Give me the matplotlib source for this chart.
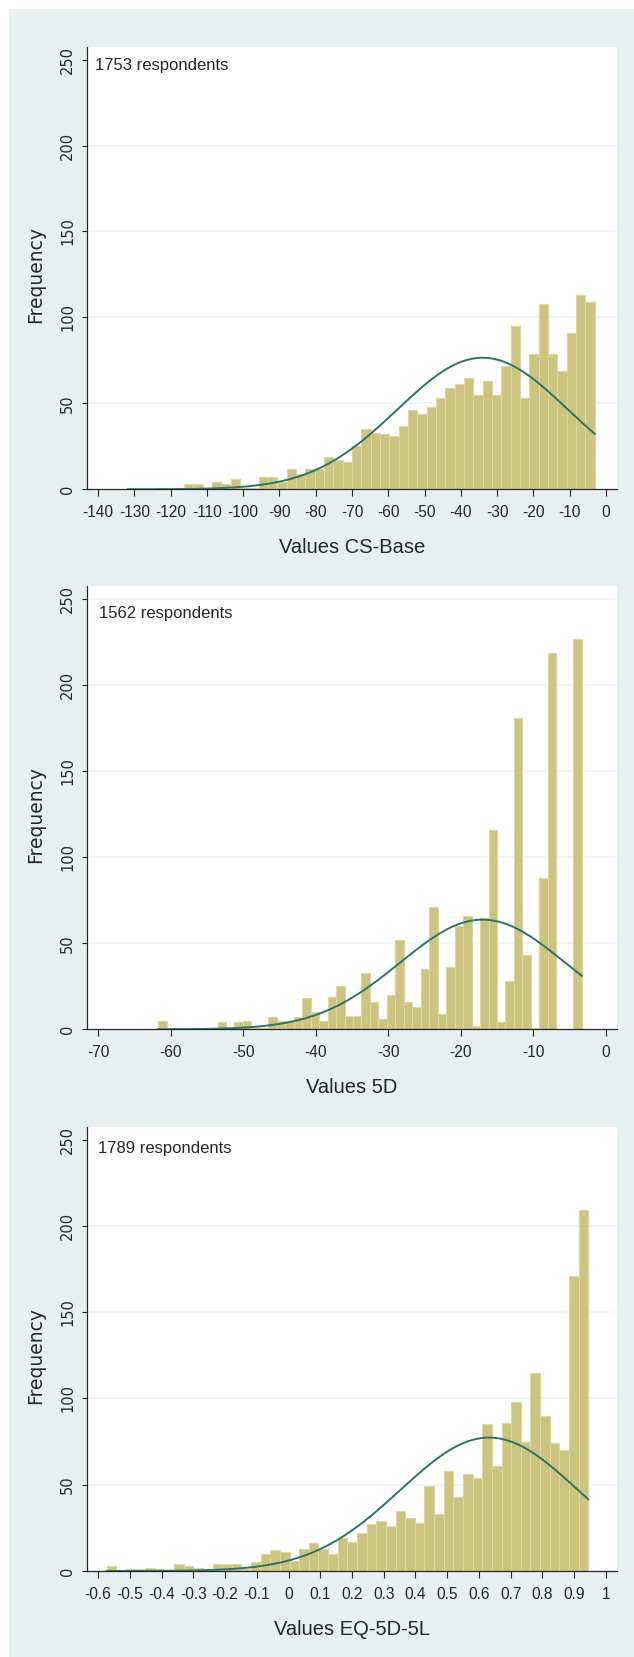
import matplotlib
matplotlib.use('Agg')
import matplotlib.pyplot as plt
import numpy as np
from matplotlib.patches import Rectangle
from matplotlib.ticker import FuncFormatter

BG = '#e8eff1'; BAR = '#ccc47f'; BAR_EDGE = '#dcd6a2'; CURVE = '#2a7468'
GRID = '#edf3f5'; INK = '#262626'
NARROW = ['Liberation Sans', 'DejaVu Sans']
WIDE = ['DejaVu Sans']

# CS-Base: 50 bins between min and max
cs_range = (-131.7, -3.1)
cs_counts = [1, 0, 0, 1, 0, 1, 3, 3, 0, 4, 3, 6, 1, 1,
             7, 7, 4, 12, 9, 12, 12, 19, 17, 16,
             25, 35, 33, 32, 31, 37, 46, 44, 48, 53,
             59, 61, 65, 55, 63, 55, 72, 95, 53, 79,
             108, 79, 69, 91, 113, 109]
cs_n = 1753
cs_mu, cs_sd = -34.0, 23.5

# 5D
d5_range = (-61.7, -3.35)
d5_counts = [5, 0, 1, 0, 1, 1, 0, 4, 1, 4, 5, 1, 1, 7, 5, 5, 7, 18, 10, 5,
             19, 25, 8, 8, 33, 16, 6, 20, 52, 16,
             13, 35, 71, 9, 36, 60, 66, 2, 65, 116,
             4, 28, 181, 43, 1, 88, 219, 0, 0, 227]
d5_n = 1562
d5_mu, d5_sd = -17.0, 11.4

# EQ-5D-5L
eq_range = (-0.573, 0.944)
eq_counts = [3, 0, 1, 1, 2, 1, 0, 4, 3, 2, 0, 4, 4, 4, 1, 5,
             10, 12, 11, 6, 13, 16, 13, 10, 19, 17,
             22, 27, 29, 26, 35, 31, 28, 49, 33, 58,
             43, 56, 54, 85, 61, 86, 98, 75, 115, 90,
             74, 70, 171, 209]
eq_n = 1789
eq_mu, eq_sd = 0.632, 0.280

panels = [
    (cs_range, cs_counts, cs_n, cs_mu, cs_sd, np.arange(-140, 1, 10), (-143.03, 3.03), 'Values CS-Base'),
    (d5_range, d5_counts, d5_n, d5_mu, d5_sd, np.arange(-70, 1, 10), (-71.52, 1.52), 'Values 5D'),
    (eq_range, eq_counts, eq_n, eq_mu, eq_sd, np.round(np.arange(-0.6, 1.01, 0.1), 1), (-0.6347, 1.0347), 'Values EQ-5D-5L'),
]
# axes boxes in pixels: top, bottom
boxes = [(46.5, 489.3), (586.4, 1029.3), (1126.6, 1571.0)]
note_pos = [(0.015, 0.956), (0.023, 0.939), (0.021, 0.951)]

W, H = 634, 1657
fig = plt.figure(figsize=(W / 100, H / 100), dpi=100, facecolor='white')
fig.add_artist(Rectangle((8.5 / W, 0), 1, 1 - 9 / H, transform=fig.transFigure,
                         fc=BG, ec='none', zorder=0))

def fmt(v, p):
    v = round(v, 1) + 0.0
    return '%g' % v

YMAX = 257.6
for k, (rng, counts, n, mu, sd, xt, xl, xlabel) in enumerate(panels):
    top, bot = boxes[k]
    ax = fig.add_axes([87 / W, 1 - bot / H, 530 / W, (bot - top) / H])
    ax.set_facecolor('white')
    edges = np.linspace(rng[0], rng[1], len(counts) + 1)
    ax.bar(edges[:-1], counts, width=np.diff(edges), align='edge',
           color=BAR, edgecolor=BAR_EDGE, linewidth=0.8, zorder=2)
    w = edges[1] - edges[0]
    xs = np.linspace(rng[0], rng[1], 400)
    ys = n * w * np.exp(-0.5 * ((xs - mu) / sd) ** 2) / (sd * np.sqrt(2 * np.pi))
    ax.plot(xs, ys, color=CURVE, lw=1.4, zorder=3)
    grid_y = [50, 100, 150, 200] + ([250] if k == 1 else [])
    for gy in grid_y:
        ax.axhline(gy, color=GRID, lw=1.2, zorder=1)
    ax.set_xlim(*xl); ax.set_ylim(0, YMAX)
    ax.set_xticks(xt); ax.set_yticks(np.arange(0, 251, 50))
    ax.xaxis.set_major_formatter(FuncFormatter(fmt))
    for s in ['top', 'right']:
        ax.spines[s].set_visible(False)
    for s in ['left', 'bottom']:
        ax.spines[s].set_color(INK); ax.spines[s].set_linewidth(0.9)
    ax.tick_params(axis='x', direction='out', length=5, width=0.8, pad=6.5, color=INK)
    ax.tick_params(axis='y', direction='out', length=3.6, width=0.8, pad=5, color=INK,
                   labelrotation=90)
    for lb in ax.get_xticklabels():
        lb.set_fontfamily(NARROW); lb.set_fontsize(11.2); lb.set_color(INK)
    for lb in ax.get_yticklabels():
        lb.set_fontfamily(WIDE); lb.set_fontsize(10.5); lb.set_color(INK); lb.set_va('center')
    ax.set_ylabel('Frequency', family=WIDE, fontsize=13.5, color=INK)
    ax.yaxis.set_label_coords((45.5 - 87) / 530, 125 / YMAX)
    ax.set_xlabel(xlabel, family=NARROW, fontsize=14.5, color=INK)
    ax.xaxis.set_label_coords(0.5, -0.111)
    ax.text(note_pos[k][0], note_pos[k][1], f'{n} respondents', transform=ax.transAxes,
            family=NARROW, fontsize=12, color=INK, ha='left', va='center')

fig.savefig('out.png', dpi=100, facecolor='white')
